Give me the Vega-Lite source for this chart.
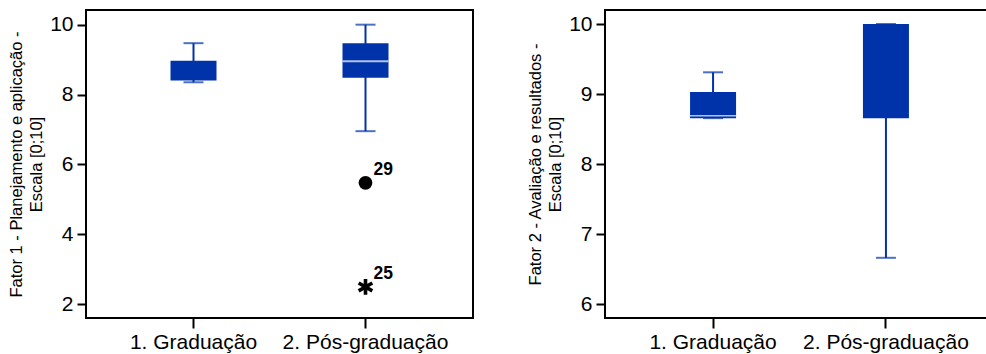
{
  "$schema": "https://vega.github.io/schema/vega-lite/v6.json",
  "background": "white",
  "padding": {"left": 7, "top": 9, "right": 0, "bottom": 0},
  "bounds": "flush",
  "spacing": 132,
  "config": {
    "view": {"stroke": "black", "strokeWidth": 2},
    "font": "Liberation Sans",
    "axis": {"domain": false, "grid": false, "tickColor": "black", "tickWidth": 2, "labelColor": "black", "labelFontSize": 21, "titleColor": "black", "titleFontSize": 16.5, "titleFontWeight": "normal", "labelFont": "Liberation Sans", "titleFont": "Liberation Sans"},
    "axisY": {"tickSize": 9, "labelPadding": 4, "titlePadding": 5, "titleLineHeight": 20},
    "axisX": {"tickSize": 10, "labelPadding": 3, "labelAngle": 0}
  },
  "datasets": {
    "box1": [
      {"group": "1. Graduação", "lower": 8.35, "q1": 8.4, "median": null, "q3": 8.97, "upper": 9.47},
      {"group": "2. Pós-graduação", "lower": 6.95, "q1": 8.48, "median": 8.95, "q3": 9.47, "upper": 10.0}
    ],
    "out1": [
      {"group": "2. Pós-graduação", "value": 5.47, "kind": "outlier", "label": "29"},
      {"group": "2. Pós-graduação", "value": 2.49, "kind": "extreme", "label": "25"}
    ],
    "box2": [
      {"group": "1. Graduação", "lower": 8.655, "q1": 8.655, "median": 8.69, "q3": 9.03, "upper": 9.31},
      {"group": "2. Pós-graduação", "lower": 6.66, "q1": 8.655, "median": null, "q3": 10.0, "upper": 10.0}
    ]
  },
  "hconcat": [
    {
      "width": 387,
      "height": 308,
      "data": {"name": "box1"},
      "encoding": {
        "x": {"field": "group", "type": "nominal", "sort": null, "scale": {"domain": ["1. Graduação", "2. Pós-graduação"], "paddingInner": 0, "paddingOuter": 0.125}, "axis": {"title": null}}
      },
      "layer": [
        {
          "mark": {"type": "rule", "color": "#0033aa", "strokeWidth": 2},
          "encoding": {
            "y": {"field": "lower", "type": "quantitative", "scale": {"domain": [1.6, 10.42], "nice": false, "zero": false}, "axis": {"values": [2, 4, 6, 8, 10], "format": "d", "title": ["Fator 1 - Planejamento e aplicação -", "Escala [0;10]"]}},
            "y2": {"field": "upper"}
          }
        },
        {
          "mark": {"type": "tick", "color": "#0033aa", "size": 20, "thickness": 2},
          "encoding": {"y": {"field": "lower", "type": "quantitative"}}
        },
        {
          "mark": {"type": "tick", "color": "#0033aa", "size": 20, "thickness": 2},
          "encoding": {"y": {"field": "upper", "type": "quantitative"}}
        },
        {
          "mark": {"type": "bar", "color": "#0033aa", "size": 46},
          "encoding": {"y": {"field": "q1", "type": "quantitative"}, "y2": {"field": "q3"}}
        },
        {
          "mark": {"type": "tick", "color": "white", "size": 46, "thickness": 2},
          "encoding": {"y": {"field": "median", "type": "quantitative"}}
        },
        {
          "data": {"name": "out1"},
          "transform": [{"filter": "datum.kind === 'outlier'"}],
          "mark": {"type": "point", "shape": "circle", "filled": true, "color": "black", "size": 190, "opacity": 1},
          "encoding": {"y": {"field": "value", "type": "quantitative"}}
        },
        {
          "data": {"name": "out1"},
          "transform": [{"filter": "datum.kind === 'extreme'"}],
          "mark": {"type": "point", "shape": "M0,-1L0,1M-0.866,-0.5L0.866,0.5M-0.866,0.5L0.866,-0.5", "filled": false, "stroke": "black", "strokeWidth": 3.6, "size": 250, "opacity": 1},
          "encoding": {"y": {"field": "value", "type": "quantitative"}}
        },
        {
          "data": {"name": "out1"},
          "mark": {"type": "text", "align": "left", "baseline": "alphabetic", "dx": 8, "dy": -8, "fontSize": 17.5, "fontWeight": "bold", "color": "black"},
          "encoding": {"y": {"field": "value", "type": "quantitative"}, "text": {"field": "label"}}
        }
      ]
    },
    {
      "width": 389,
      "height": 308,
      "data": {"name": "box2"},
      "encoding": {
        "x": {"field": "group", "type": "nominal", "sort": null, "scale": {"domain": ["1. Graduação", "2. Pós-graduação"], "paddingInner": 0, "paddingOuter": 0.125}, "axis": {"title": null}}
      },
      "layer": [
        {
          "mark": {"type": "rule", "color": "#0033aa", "strokeWidth": 2},
          "encoding": {
            "y": {"field": "lower", "type": "quantitative", "scale": {"domain": [5.8, 10.2], "nice": false, "zero": false}, "axis": {"values": [6, 7, 8, 9, 10], "format": "d", "title": ["Fator 2 - Avaliação e resultados -", "Escala [0;10]"]}},
            "y2": {"field": "upper"}
          }
        },
        {
          "mark": {"type": "tick", "color": "#0033aa", "size": 20, "thickness": 2},
          "encoding": {"y": {"field": "lower", "type": "quantitative"}}
        },
        {
          "mark": {"type": "tick", "color": "#0033aa", "size": 20, "thickness": 2},
          "encoding": {"y": {"field": "upper", "type": "quantitative"}}
        },
        {
          "mark": {"type": "bar", "color": "#0033aa", "size": 46},
          "encoding": {"y": {"field": "q1", "type": "quantitative"}, "y2": {"field": "q3"}}
        },
        {
          "mark": {"type": "tick", "color": "white", "size": 46, "thickness": 1.5},
          "encoding": {"y": {"field": "median", "type": "quantitative"}}
        }
      ]
    }
  ]
}
